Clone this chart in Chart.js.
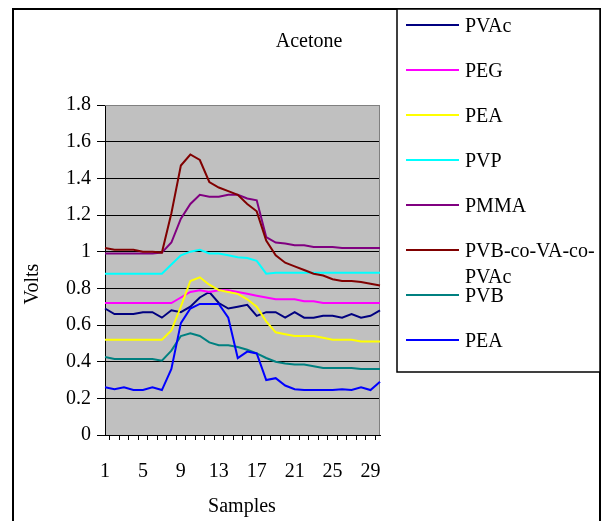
<!DOCTYPE html>
<html>
<head>
<meta charset="utf-8">
<title>Acetone</title>
<script src="https://cdn.jsdelivr.net/npm/chart.js@4.4.1/dist/chart.umd.min.js"></script>
<style>
    html, body { margin: 0; padding: 0; background: #fff; }
    canvas { display: block; }
</style>
</head>
<body>
<canvas id="acetoneChart" width="605" height="521"></canvas>
<script>
// Samples along the x axis
const samples = ['1', '2', '3', '4', '5', '6', '7', '8', '9', '10',
    '11', '12', '13', '14', '15', '16', '17', '18', '19', '20',
    '21', '22', '23', '24', '25', '26', '27', '28', '29', '30'];

// Sensor responses (Volts)
const pvac = [0.69, 0.66, 0.66, 0.66, 0.67, 0.67, 0.64, 0.68, 0.67, 0.70,
    0.75, 0.78, 0.72, 0.69, 0.70, 0.71, 0.65, 0.67, 0.67, 0.64,
    0.67, 0.64, 0.64, 0.65, 0.65, 0.64, 0.66, 0.64, 0.65, 0.68];
const peg = [0.72, 0.72, 0.72, 0.72, 0.72, 0.72, 0.72, 0.72, 0.75, 0.78,
    0.79, 0.78, 0.79, 0.79, 0.78, 0.77, 0.76, 0.75, 0.74, 0.74,
    0.74, 0.73, 0.73, 0.72, 0.72, 0.72, 0.72, 0.72, 0.72, 0.72];
const pea = [0.52, 0.52, 0.52, 0.52, 0.52, 0.52, 0.52, 0.57, 0.70, 0.84,
    0.86, 0.82, 0.79, 0.78, 0.77, 0.74, 0.70, 0.62, 0.56, 0.55,
    0.54, 0.54, 0.54, 0.53, 0.52, 0.52, 0.52, 0.51, 0.51, 0.51];
const pvp = [0.88, 0.88, 0.88, 0.88, 0.88, 0.88, 0.88, 0.93, 0.98, 1.00,
    1.01, 0.99, 0.99, 0.98, 0.97, 0.965, 0.95, 0.88, 0.885, 0.885,
    0.885, 0.885, 0.885, 0.885, 0.885, 0.885, 0.885, 0.885, 0.885, 0.885];
const pmma = [0.99, 0.99, 0.99, 0.99, 0.99, 0.99, 0.995, 1.05, 1.18, 1.26,
    1.31, 1.30, 1.30, 1.31, 1.31, 1.29, 1.28, 1.08, 1.05, 1.045,
    1.035, 1.035, 1.025, 1.025, 1.025, 1.02, 1.02, 1.02, 1.02, 1.02];
const pvbCoVa = [1.02, 1.01, 1.01, 1.01, 1.00, 1.00, 0.995, 1.21, 1.47, 1.53,
    1.50, 1.38, 1.35, 1.33, 1.31, 1.26, 1.22, 1.06, 0.98, 0.94,
    0.92, 0.90, 0.88, 0.87, 0.85, 0.84, 0.84, 0.835, 0.825, 0.815];
const pvb = [0.425, 0.415, 0.415, 0.415, 0.415, 0.415, 0.405, 0.46, 0.54, 0.555,
    0.54, 0.505, 0.49, 0.49, 0.48, 0.465, 0.445, 0.42, 0.40, 0.39,
    0.385, 0.385, 0.375, 0.365, 0.365, 0.365, 0.365, 0.36, 0.36, 0.36];
const pea2 = [0.26, 0.25, 0.26, 0.245, 0.245, 0.26, 0.245, 0.36, 0.61, 0.69,
    0.715, 0.715, 0.715, 0.64, 0.42, 0.455, 0.445, 0.30, 0.31, 0.27,
    0.25, 0.245, 0.245, 0.245, 0.245, 0.25, 0.245, 0.26, 0.245, 0.29];

const seriesLabels = ['PVAc', 'PEG', 'PEA', 'PVP', 'PMMA', 'PVB-co-VA-co-PVAc', 'PVB', 'PEA'];
const seriesData = [pvac, peg, pea, pvp, pmma, pvbCoVa, pvb, pea2];
const seriesColors = ['#000080', '#FF00FF', '#FFFF00', '#00FFFF', '#800080', '#800000', '#008080', '#0000FF'];

const serif = "'Liberation Serif', 'Times New Roman', serif";

// Grey plot background, frame, titles and legend box
const excelLook = {
    id: 'excelLook',
    beforeDraw(chart) {
        const { ctx, chartArea: a } = chart;
        ctx.save();
        ctx.fillStyle = '#C0C0C0';
        ctx.fillRect(a.left, a.top, a.right - a.left, a.bottom - a.top);
        ctx.restore();
    },
    beforeDatasetsDraw(chart) {
        const { ctx, chartArea: a } = chart;
        ctx.save();
        ctx.strokeStyle = '#808080';
        ctx.lineWidth = 1;
        ctx.beginPath();
        ctx.moveTo(a.left, a.top + 0.5);
        ctx.lineTo(a.right - 0.5, a.top + 0.5);
        ctx.lineTo(a.right - 0.5, a.bottom);
        ctx.stroke();
        ctx.restore();
    },
    afterDraw(chart) {
        const ctx = chart.ctx;
        ctx.save();

        // outer frame
        ctx.strokeStyle = '#000';
        ctx.lineWidth = 2;
        ctx.beginPath();
        ctx.moveTo(13, 530);
        ctx.lineTo(13, 9);
        ctx.lineTo(600, 9);
        ctx.lineTo(600, 530);
        ctx.stroke();

        // titles
        ctx.fillStyle = '#000';
        ctx.font = '20px ' + serif;
        ctx.textAlign = 'center';
        ctx.textBaseline = 'alphabetic';
        ctx.fillText('Acetone', 309, 47);
        ctx.fillText('Samples', 242, 512);
        ctx.save();
        ctx.translate(38, 284);
        ctx.rotate(-Math.PI / 2);
        ctx.fillText('Volts', 0, 0);
        ctx.restore();

        // legend
        ctx.fillStyle = '#fff';
        ctx.fillRect(397, 9, 203, 363);
        ctx.strokeStyle = '#000';
        ctx.lineWidth = 1.5;
        ctx.strokeRect(397, 9, 203, 363);

        ctx.textAlign = 'left';
        seriesLabels.forEach((label, i) => {
            const y = 25 + i * 45;
            ctx.strokeStyle = seriesColors[i];
            ctx.lineWidth = 2;
            ctx.beginPath();
            ctx.moveTo(406, y);
            ctx.lineTo(459, y);
            ctx.stroke();
            ctx.fillStyle = '#000';
            if (label === 'PVB-co-VA-co-PVAc') {
                ctx.fillText('PVB-co-VA-co-', 465, y + 7);
                ctx.fillText('PVAc', 465, y + 33);
            } else {
                ctx.fillText(label, 465, y + 7);
            }
        });
        ctx.restore();
    }
};

const datasets = seriesLabels.map((label, i) => ({
    label: label,
    data: seriesData[i],
    borderColor: seriesColors[i],
    backgroundColor: seriesColors[i],
    borderWidth: 2,
    pointRadius: 0,
    tension: 0,
    fill: false,
    order: seriesLabels.length - i
}));

const ctx = document.getElementById('acetoneChart').getContext('2d');
new Chart(ctx, {
    type: 'line',
    data: { labels: samples, datasets },
    plugins: [excelLook],
    options: {
        responsive: false,
        animation: false,
        layout: { padding: { left: 0, top: 105, right: 225, bottom: 0 } },
        plugins: {
            legend: { display: false },
            tooltip: { enabled: false }
        },
        scales: {
            x: {
                type: 'category',
                afterFit: scale => { scale.height = 86; },
                grid: {
                    offset: true,
                    drawOnChartArea: false,
                    tickLength: 5,
                    color: '#000',
                    tickColor: '#000'
                },
                border: { display: true, color: '#000', width: 1 },
                ticks: {
                    autoSkip: false,
                    maxRotation: 0,
                    padding: 20,
                    color: '#000',
                    font: { family: serif, size: 20 },
                    callback: (value, index) => index % 4 === 0 ? samples[index] : ''
                }
            },
            y: {
                min: 0,
                max: 1.8,
                afterFit: scale => { scale.width = 105; },
                grid: {
                    color: c => (c.tick && c.tick.value >= 1.79) ? '#808080' : '#000',
                    tickColor: '#000',
                    tickLength: 8,
                    lineWidth: 1
                },
                border: { display: true, color: '#000', width: 1 },
                ticks: {
                    stepSize: 0.2,
                    padding: 6,
                    color: '#000',
                    font: { family: serif, size: 20 },
                    callback: value => String(+value.toFixed(1))
                }
            }
        }
    }
});
</script>
</body>
</html>
